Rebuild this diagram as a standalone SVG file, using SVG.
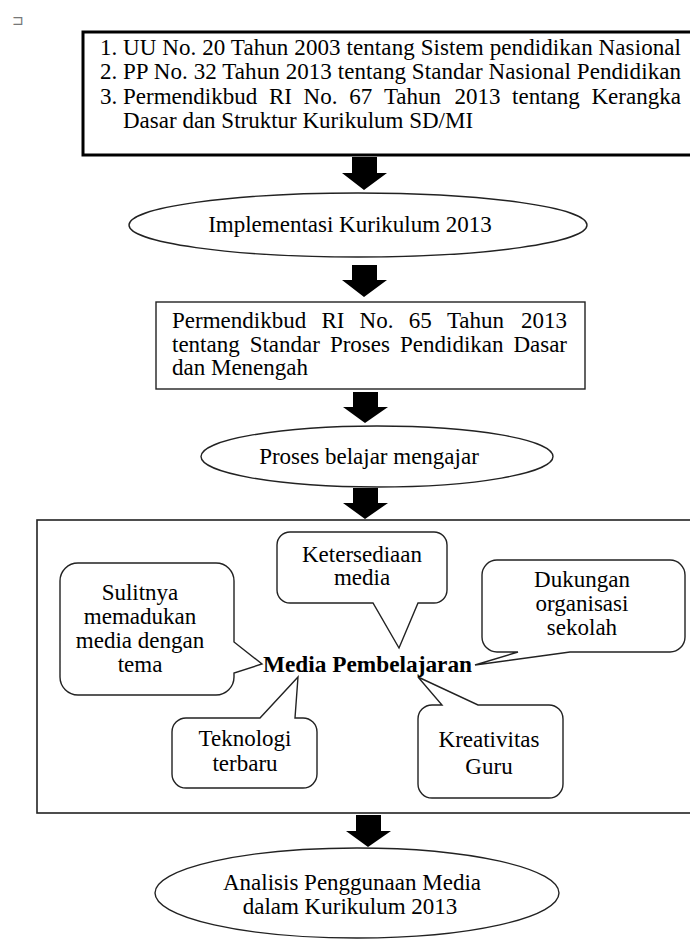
<svg xmlns="http://www.w3.org/2000/svg" width="690" height="942" viewBox="0 0 690 942">
<style>
.t{font-family:"Liberation Serif","Times New Roman",serif;font-size:23px;fill:#000}
.c{text-anchor:middle}
.b{font-weight:bold}
.shape{fill:#fff;stroke:#222;stroke-width:1.4}
.arrow{fill:#000}
</style>
<rect x="0" y="0" width="690" height="942" fill="#fff"/>
<text x="12" y="25" style="font-family:'DejaVu Sans',sans-serif;font-size:14px;fill:#777">⊐</text>

<g id="connectors">
<polygon class="arrow" points="352,157 377,157 377,173 387,173 364,190 342,173 352,173"/>
<polygon class="arrow" points="352,265 377,265 377,280 387,280 364,297 342,280 352,280"/>
<polygon class="arrow" points="353,392 378,392 378,407 388,407 365,423 343,407 353,407"/>
<polygon class="arrow" points="353,488 378,488 378,503 388,503 365,519 343,503 353,503"/>
<polygon class="arrow" points="356,815 381,815 381,831 391,831 368,847 346,831 356,831"/>
</g>

<g id="node-dasar-hukum">
<rect x="83" y="32" width="612" height="123" fill="#fff" stroke="#000" stroke-width="3"/>
<text class="t" x="100" y="55">1.</text>
<text class="t" x="123" y="55" textLength="558" lengthAdjust="spacing">UU No. 20 Tahun 2003 tentang Sistem pendidikan Nasional</text>
<text class="t" x="100" y="79">2.</text>
<text class="t" x="123" y="79" textLength="558" lengthAdjust="spacing">PP No. 32 Tahun 2013 tentang Standar Nasional Pendidikan</text>
<text class="t" x="100" y="104">3.</text>
<text class="t" y="104"><tspan x="123">Permendikbud</tspan><tspan x="269">RI</tspan><tspan x="303.6">No.</tspan><tspan x="349.2">67</tspan><tspan x="383.9">Tahun</tspan><tspan x="454.4">2013</tspan><tspan x="512.1">tentang</tspan><tspan x="591.5">Kerangka</tspan></text>
<text class="t" x="123" y="128">Dasar dan Struktur Kurikulum SD/MI</text>
</g>

<g id="node-implementasi">
<ellipse class="shape" cx="358" cy="225" rx="229" ry="32"/>
<text class="t" x="350" y="232" text-anchor="middle">Implementasi Kurikulum 2013</text>
</g>

<g id="node-permendikbud65">
<rect class="shape" x="156" y="302" width="429" height="87"/>
<text class="t" y="328"><tspan x="172">Permendikbud</tspan><tspan x="321.4">RI</tspan><tspan x="359.6">No.</tspan><tspan x="408.7">65</tspan><tspan x="446.9">Tahun</tspan><tspan x="521">2013</tspan></text>
<text class="t" y="352"><tspan x="172">tentang</tspan><tspan x="249.7">Standar</tspan><tspan x="329.9">Proses</tspan><tspan x="400">Pendidikan</tspan><tspan x="513.4">Dasar</tspan></text>
<text class="t" x="172" y="375">dan Menengah</text>
</g>

<g id="node-proses">
<ellipse class="shape" cx="377" cy="456.5" rx="176" ry="30.5"/>
<text class="t" x="369" y="464" text-anchor="middle">Proses belajar mengajar</text>
</g>

<g id="node-media-box">
<rect x="37" y="520" width="660" height="293" fill="#fff" stroke="#222" stroke-width="1.6"/>
</g>

<g id="node-ketersediaan">
<path class="shape" d="M290,532 H434 A13,13 0 0 1 447,545 V590 A13,13 0 0 1 434,603 H418 L399,648 L373,603 H290 A13,13 0 0 1 277,590 V545 A13,13 0 0 1 290,532 Z"/>
<text class="t c" x="362" y="562">Ketersediaan</text>
<text class="t c" x="362" y="585">media</text>
</g>

<g id="node-sulitnya">
<path class="shape" d="M78,563 H216 A18,18 0 0 1 234,581 V642 L262,664 L234,673 V677 A18,18 0 0 1 216,695 H78 A18,18 0 0 1 60,677 V581 A18,18 0 0 1 78,563 Z"/>
<text class="t c" x="140" y="600">Sulitnya</text>
<text class="t c" x="140" y="624">memadukan</text>
<text class="t c" x="140" y="648">media dengan</text>
<text class="t c" x="140" y="672">tema</text>
</g>

<g id="node-dukungan">
<path class="shape" d="M497,560 H670 A15,15 0 0 1 685,575 V637 A15,15 0 0 1 670,652 H570 L475,665 L518,652 H497 A15,15 0 0 1 482,637 V575 A15,15 0 0 1 497,560 Z"/>
<text class="t c" x="582" y="587">Dukungan</text>
<text class="t c" x="582" y="611">organisasi</text>
<text class="t c" x="582" y="635">sekolah</text>
</g>

<g id="node-teknologi">
<path class="shape" d="M186,718 H260 L298,677 L295,718 H303 A14,14 0 0 1 317,732 V774 A14,14 0 0 1 303,788 H186 A14,14 0 0 1 172,774 V732 A14,14 0 0 1 186,718 Z"/>
<text class="t c" x="245" y="746">Teknologi</text>
<text class="t c" x="245" y="771">terbaru</text>
</g>

<g id="node-kreativitas">
<path class="shape" d="M432,705 H442 L418,677 L478,705 H549 A14,14 0 0 1 563,719 V784 A14,14 0 0 1 549,798 H432 A14,14 0 0 1 418,784 V719 A14,14 0 0 1 432,705 Z"/>
<text class="t c" x="489" y="747">Kreativitas</text>
<text class="t c" x="489" y="774">Guru</text>
</g>

<g id="node-media-pembelajaran">
<text class="t b" x="263" y="672" textLength="209" lengthAdjust="spacingAndGlyphs">Media Pembelajaran</text>
</g>

<g id="node-analisis">
<ellipse class="shape" cx="357" cy="893" rx="202" ry="45"/>
<text class="t c" x="352" y="890">Analisis Penggunaan Media</text>
<text class="t c" x="350" y="914">dalam Kurikulum 2013</text>
</g>
</svg>
